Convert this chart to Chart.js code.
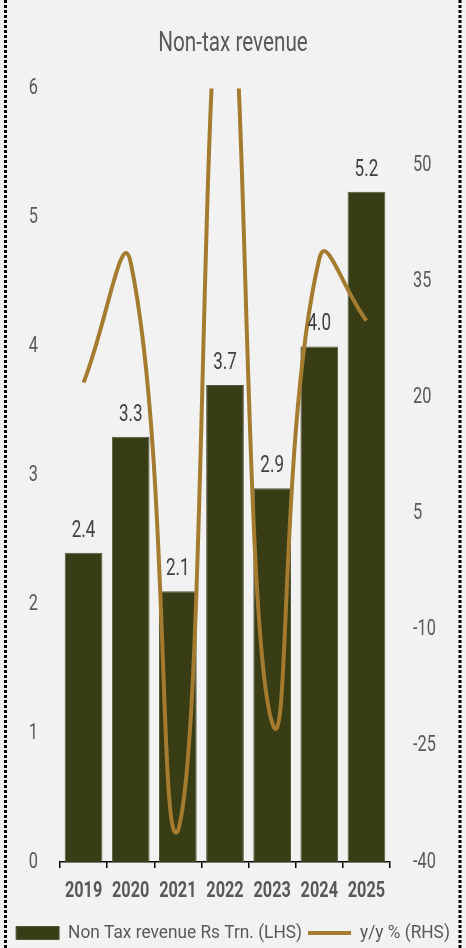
<!DOCTYPE html>
<html>
<head>
<meta charset="utf-8">
<script src="https://cdn.jsdelivr.net/npm/chart.js@4.4.1/dist/chart.umd.min.js"></script>
<style>
  html, body { margin: 0; padding: 0; background: #f2f2f2; }
  #box { width: 466px; height: 948px; }
</style>
</head>
<body>
<div id="box"><canvas id="bar_graph" width="466" height="948"></canvas></div>
<script>
var years = ["2019", "2020", "2021", "2022", "2023", "2024", "2025"];
var revenue = [2.4, 3.3, 2.1, 3.7, 2.9, 4.0, 5.2];
var growth = [22, 37.5, -36, 76, -22, 38, 30];
var leftTicks = [0, 1, 2, 3, 4, 5, 6];
var rightTicks = [-40, -25, -10, 5, 20, 35, 50];

var font = "Roboto, 'Noto Sans', sans-serif";
var textColor = "#595959";
var narrow = 0.74;
var legendSize = 18;
var legendNarrow = 0.96;

var ctxBar = document.getElementById("bar_graph").getContext("2d");

//fattore di compressione del testo: la legenda resta piu' larga
function textFactor() {
  return ctxBar.font.indexOf(legendSize + "px") >= 0 ? legendNarrow : narrow;
}

//testo stretto: comprimo in orizzontale le scritte del canvas
var baseMeasure = ctxBar.measureText.bind(ctxBar);
var baseFill = ctxBar.fillText.bind(ctxBar);
ctxBar.measureText = function(text) {
  var m = baseMeasure(text);
  var f = textFactor();
  return {
    width: m.width * f,
    actualBoundingBoxAscent: m.actualBoundingBoxAscent,
    actualBoundingBoxDescent: m.actualBoundingBoxDescent,
    actualBoundingBoxLeft: m.actualBoundingBoxLeft * f,
    actualBoundingBoxRight: m.actualBoundingBoxRight * f
  };
};
ctxBar.fillText = function(text, x, y, maxWidth) {
  var w = baseMeasure(text).width * textFactor();
  if (maxWidth !== undefined && maxWidth < w) {
    w = maxWidth;
  }
  baseFill(text, x, y, w);
};

//sfondo grigio e bordi tratteggiati ai lati
var backgroundPlugin = {
  id: "sfondo",
  beforeDraw: function(chart) {
    var ctx = chart.ctx;
    ctx.save();
    ctx.fillStyle = "#f2f2f2";
    ctx.fillRect(0, 0, chart.width, chart.height);
    ctx.strokeStyle = "#000";
    ctx.lineWidth = 3;
    ctx.setLineDash([3, 2]);
    ctx.beginPath();
    ctx.moveTo(5.5, 0);
    ctx.lineTo(5.5, chart.height);
    ctx.moveTo(460, 0);
    ctx.lineTo(460, chart.height);
    ctx.stroke();
    ctx.restore();
  }
};

//etichette sopra le barre
var labelsPlugin = {
  id: "etichette",
  afterDatasetsDraw: function(chart) {
    var ctx = chart.ctx;
    var meta = chart.getDatasetMeta(0);
    ctx.save();
    ctx.fillStyle = "#404040";
    ctx.font = "23px " + font;
    ctx.textAlign = "center";
    ctx.textBaseline = "alphabetic";
    meta.data.forEach(function(bar, i) {
      ctx.fillText(revenue[i].toFixed(1), bar.x, bar.y - 16);
    });
    ctx.restore();
  }
};

var graph = new Chart(ctxBar, {
  type: "bar",
  data: {
    labels: years,
    datasets: [{
      label: "Non Tax revenue Rs Trn. (LHS)",
      data: revenue,
      backgroundColor: "#393d16",
      borderColor: "#55573a",
      borderWidth: 1,
      yAxisID: "y",
      order: 1,
      pointStyle: "rect",
      barPercentage: 0.8,
      categoryPercentage: 1
    }, {
      type: "line",
      label: "y/y % (RHS)",
      data: growth,
      borderColor: "#a57b2f",
      backgroundColor: "#a57b2f",
      borderWidth: 4,
      tension: 0.5,
      pointRadius: 0,
      pointStyle: "line",
      yAxisID: "y1",
      order: 0
    }]
  },
  options: {
    responsive: false,
    animation: false,
    layout: { padding: { top: 15, bottom: -4 } },
    plugins: {
      title: {
        display: true,
        text: "Non-tax revenue",
        color: textColor,
        font: { family: font, size: 28, weight: "normal" },
        padding: { top: 12, bottom: 28 }
      },
      legend: {
        position: "bottom",
        labels: {
          color: textColor,
          font: { family: font, size: legendSize },
          usePointStyle: true,
          pointStyleWidth: 43,
          boxHeight: 13,
          padding: 6,
          sort: function(a, b) { return a.datasetIndex - b.datasetIndex; }
        }
      },
      tooltip: { enabled: false }
    },
    scales: {
      x: {
        afterFit: function(scale) { scale.height = 56; },
        grid: {
          display: true,
          drawOnChartArea: false,
          drawTicks: true,
          tickLength: 6,
          color: "#000",
          lineWidth: 1.5
        },
        border: { display: true, color: "#000", width: 1.5 },
        ticks: {
          color: textColor,
          font: { family: font, size: 22, weight: "bold" },
          padding: 10,
          maxRotation: 0
        }
      },
      y: {
        position: "left",
        min: 0,
        max: 6,
        grid: { display: false, drawTicks: false },
        border: { display: false },
        afterFit: function(scale) { scale.width = 60; },
        afterBuildTicks: function(scale) {
          scale.ticks = leftTicks.map(function(v) { return { value: v }; });
        },
        ticks: {
          color: textColor,
          font: { family: font, size: 22 },
          padding: 22
        }
      },
      y1: {
        position: "right",
        min: -40,
        max: 60,
        grid: { display: false, drawTicks: false },
        border: { display: false },
        afterFit: function(scale) { scale.width = 76; },
        afterBuildTicks: function(scale) {
          scale.ticks = rightTicks.map(function(v) { return { value: v }; });
        },
        ticks: {
          color: textColor,
          font: { family: font, size: 22 },
          padding: 23
        }
      }
    }
  },
  plugins: [backgroundPlugin, labelsPlugin]
});
</script>
</body>
</html>
